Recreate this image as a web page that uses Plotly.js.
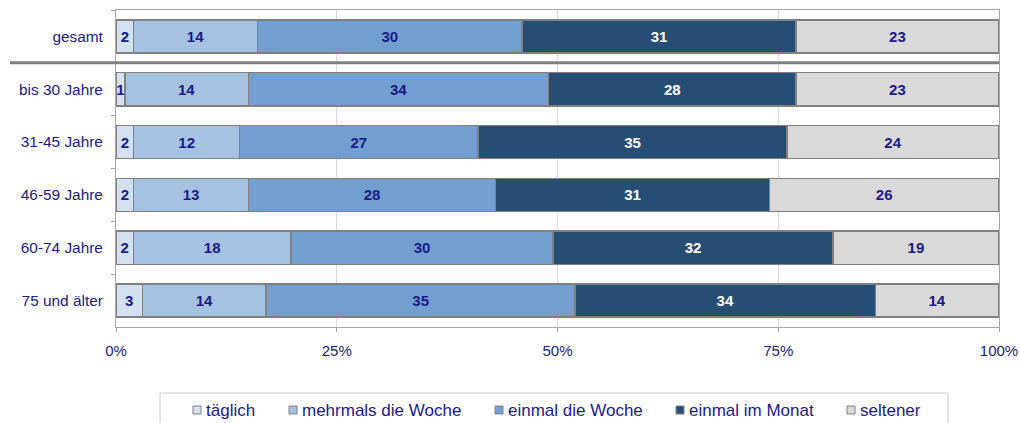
<!DOCTYPE html>
<html>
<head>
<meta charset="utf-8">
<script src="https://cdn.plot.ly/plotly-3.0.1.min.js"></script>
<style>html,body{margin:0;padding:0;background:#fff;}#chart{width:1020px;height:423px;}</style>
</head>
<body>
<div id="chart"></div>
<script>
// ---- data ----
var categories = ["gesamt", "bis 30 Jahre", "31-45 Jahre", "46-59 Jahre", "60-74 Jahre", "75 und älter"];
var seriesNames = ["täglich", "mehrmals die Woche", "einmal die Woche", "einmal im Monat", "seltener"];
var taeglich       = [2, 1, 2, 2, 2, 3];
var mehrmalsWoche  = [14, 14, 12, 13, 18, 14];
var einmalWoche    = [30, 34, 27, 28, 30, 35];
var einmalMonat    = [31, 28, 35, 31, 32, 34];
var seltener       = [23, 23, 24, 26, 19, 14];
var xTickVals = [0, 25, 50, 75, 100];
var xTickText = ["0%", "25%", "50%", "75%", "100%"];

// ---- styling ----
var seriesValues = [taeglich, mehrmalsWoche, einmalWoche, einmalMonat, seltener];
var colors = ["#D3E1F1", "#A5C3E1", "#729FD0", "#264E74", "#D9D9D9"];
var textColors = ["#1a1a8a", "#1a1a8a", "#1a1a8a", "#ffffff", "#1a1a8a"];
var navy = "#1a1a8a";
var font = "Liberation Sans, Arial, sans-serif";

var W = 1020, H = 423;
var M = {l: 116, r: 21, t: 10, b: 96};
var pw = W - M.l - M.r, ph = H - M.t - M.b;
function px2x(px) { return (px - M.l) / pw; }
function py2y(py) { return (H - M.b - py) / ph; }

var traces = seriesValues.map(function (vals, i) {
  return {
    type: "bar",
    orientation: "h",
    name: seriesNames[i],
    y: categories,
    x: vals,
    text: vals.map(String),
    textposition: "inside",
    insidetextanchor: "middle",
    textangle: 0,
    constraintext: "none",
    textfont: {family: font, size: 15, weight: "bold", color: textColors[i]},
    marker: {color: colors[i], line: {color: "#808080", width: 1.5}},
    hoverinfo: "skip",
    showlegend: false
  };
});

// manual legend (swatches + labels)
var legendSwatchCenters = [197, 293, 499, 680, 851];
var legendY = 410;
var shapes = [
  // separator between "gesamt" and age groups
  {type: "line", xref: "paper", yref: "y", x0: px2x(10), x1: 1, y0: 0.5, y1: 0.5,
   line: {color: "#808080", width: 3}},
  // legend frame
  {type: "rect", xref: "paper", yref: "paper", x0: px2x(160), x1: px2x(948), y0: py2y(393), y1: py2y(440),
   line: {color: "#c8c8c8", width: 1}, fillcolor: "#ffffff", layer: "below"}
];
var annotations = [];
seriesNames.forEach(function (nm, i) {
  var c = legendSwatchCenters[i];
  shapes.push({type: "rect", xref: "paper", yref: "paper",
    x0: px2x(c - 4), x1: px2x(c + 4), y0: py2y(legendY - 4), y1: py2y(legendY + 4),
    fillcolor: colors[i], line: {color: "#808080", width: 1}});
  annotations.push({xref: "paper", yref: "paper", x: px2x(c + 7), y: py2y(legendY),
    xanchor: "left", yanchor: "middle", showarrow: false, text: nm,
    font: {family: font, size: 17, color: navy}});
});

var layout = {
  width: W, height: H,
  margin: M,
  paper_bgcolor: "#ffffff",
  plot_bgcolor: "#ffffff",
  barmode: "stack",
  barnorm: "percent",
  bargap: 0.375,
  showlegend: false,
  xaxis: {
    range: [0, 100],
    tickmode: "array",
    tickvals: xTickVals,
    ticktext: xTickText,
    showgrid: true, gridcolor: "#d9d9d9", gridwidth: 1,
    zeroline: false,
    showline: true, mirror: true, linecolor: "#a6a6a6", linewidth: 1,
    ticks: "outside", ticklen: 4, tickcolor: "#a6a6a6",
    ticklabelstandoff: 6,
    tickfont: {family: font, size: 15, color: navy},
    fixedrange: true
  },
  yaxis: {
    type: "category",
    autorange: "reversed",
    showgrid: false,
    zeroline: false,
    showline: true, mirror: true, linecolor: "#a6a6a6", linewidth: 1,
    ticks: "outside", ticklen: 4, tickcolor: "#a6a6a6",
    tickson: "boundaries",
    ticklabelstandoff: 9,
    tickfont: {family: font, size: 15.4, color: navy},
    fixedrange: true
  },
  shapes: shapes,
  annotations: annotations
};

Plotly.newPlot("chart", traces, layout, {staticPlot: true, displayModeBar: false});
</script>
</body>
</html>
